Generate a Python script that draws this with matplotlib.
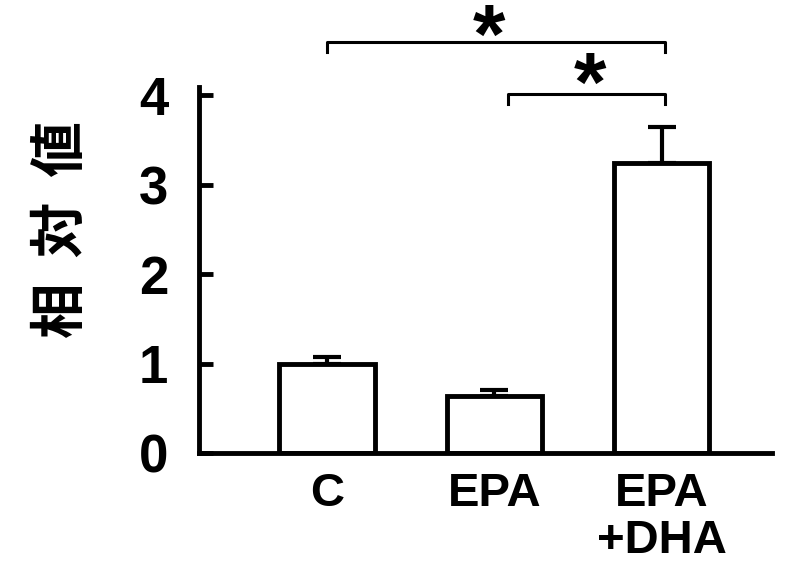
import numpy as np
import matplotlib
matplotlib.use('Agg')
import matplotlib.pyplot as plt

plt.rcParams['font.family'] = ['Liberation Sans', 'DejaVu Sans']

# data
groups = ['C', 'EPA', 'EPA\n+DHA']
values = [1.0, 0.64, 3.24]
errors = [0.07, 0.06, 0.40]
yticks = [0, 1, 2, 3, 4]
ylabel = '相  対  値'

# significance brackets: left end, right end, bracket height, star x, star top
brackets = [(0, 2.02, 4.59, 0.97, 5.04), (1.08, 2.02, 4.01, 1.57, 4.50)]

fig = plt.figure(figsize=(7.87, 5.63), dpi=100)
ax = fig.add_axes([0.2529, 0.1954, 0.728, 0.650])

x = np.arange(len(groups))
ax.bar(x, values, width=0.57, color='white', edgecolor='black', linewidth=3.5, zorder=2)
ax.errorbar(x, values, yerr=[np.zeros(len(values)), errors], fmt='none',
            ecolor='black', elinewidth=3, capsize=10, capthick=3, zorder=1)

ax.set_xlim(-0.765, 2.66)
ax.set_ylim(0, 4.09)
ax.set_yticks(yticks)
ax.set_yticklabels([str(t) for t in yticks], fontsize=38, fontweight='bold')
ax.set_xticks(x)
ax.set_xticklabels(groups, fontsize=34, fontweight='bold', linespacing=1.08)
ax.tick_params(axis='y', direction='in', length=10, width=3.5, pad=22)
ax.tick_params(axis='x', length=0, pad=14)

for side in ['top', 'right']:
    ax.spines[side].set_visible(False)
for side in ['left', 'bottom']:
    ax.spines[side].set_linewidth(3.5)

ax.set_ylabel(ylabel, fontsize=40, fontweight='bold',
              family=['Noto Sans CJK JP', 'DejaVu Sans'])
ax.yaxis.set_label_coords(-0.19, 0.61)

for x0, x1, h, sx, sy in brackets:
    ax.plot([x0, x0, x1, x1], [h - 0.11, h, h, h - 0.11], color='black',
            linewidth=2.2, clip_on=False)
    ax.text(sx, sy, '*', ha='center', va='top', fontsize=60, fontweight='bold')

fig.savefig('out.png', dpi=100)
